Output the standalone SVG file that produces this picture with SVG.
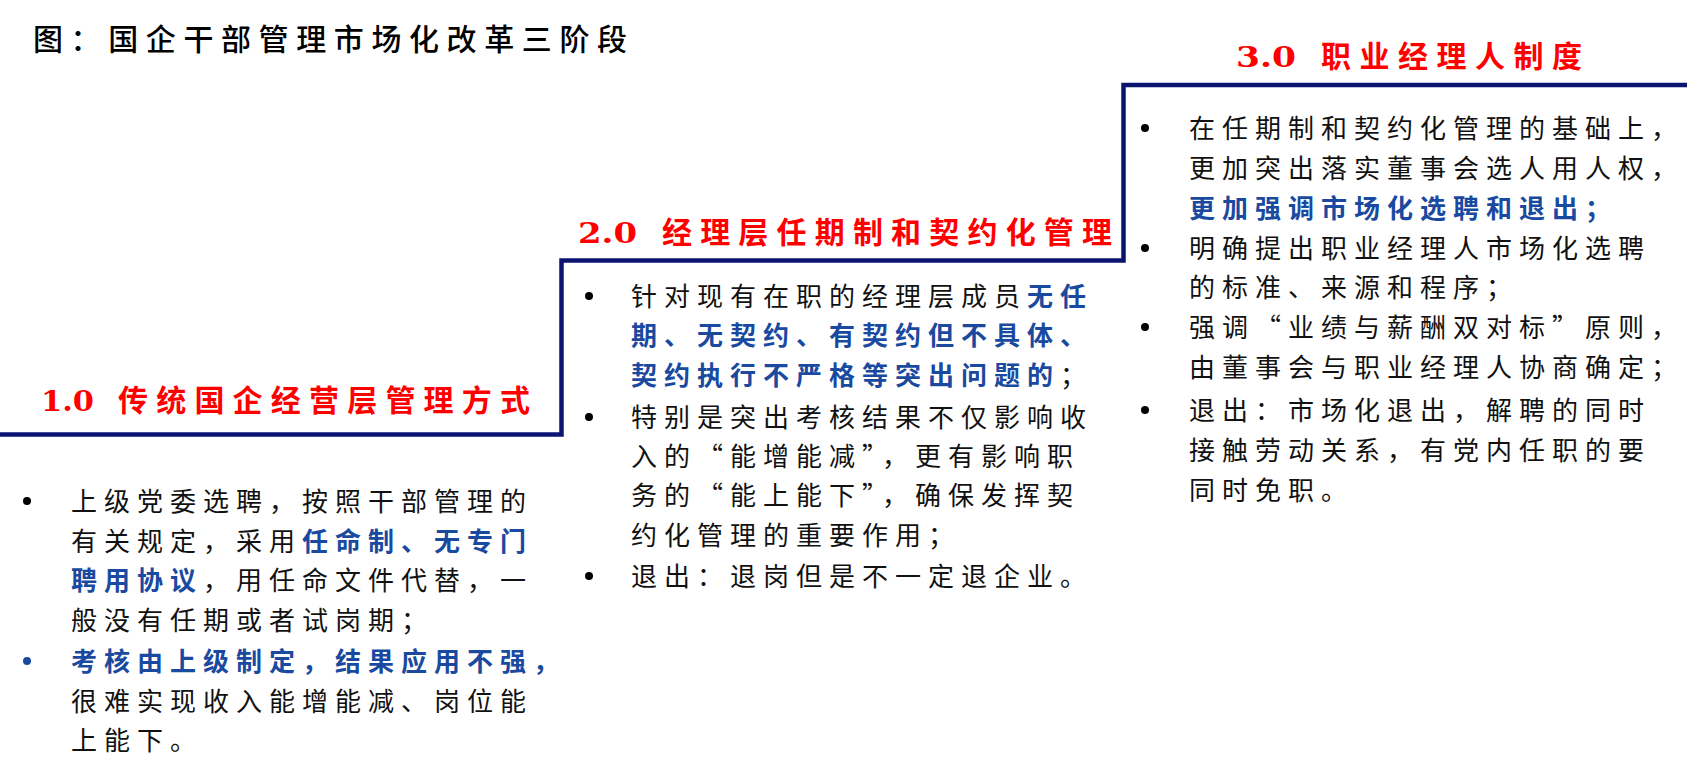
<svg xmlns="http://www.w3.org/2000/svg" width="1707" height="777" viewBox="0 0 1707 777">
<style>
.t{font-family:"Noto Sans CJK SC","Noto Sans",sans-serif;font-size:30px;fill:#000;font-weight:500;}
.b{font-family:"Noto Sans CJK SC","Noto Sans",sans-serif;font-size:26px;fill:#111;letter-spacing:7px;font-feature-settings:"fwid";}
.bl{fill:#1a4aa0;font-weight:bold;}
.h{font-family:"Noto Sans CJK SC","Noto Sans",sans-serif;font-size:30px;fill:#ff0000;font-weight:bold;}
.n{font-family:"DejaVu Serif","Liberation Serif",serif;font-size:27px;fill:#ff0000;font-weight:bold;}
.dot{fill:#000;}
.dotb{fill:#1a4aa0;}
.step{fill:none;stroke:#0b1470;stroke-width:4.5;stroke-linejoin:miter;}
</style>
<rect width="1707" height="777" fill="#fff"/>
<g id="title"><text class="t" x="33" y="50" textLength="594" lengthAdjust="spacing">图：国企干部管理市场化改革三阶段</text></g>
<g id="connectors"><path class="step" d="M0,434.5 H561.5 V260.5 H1123.5 V85 H1687"/></g>
<g id="stage1">
<text class="n" x="41" y="411" textLength="53" lengthAdjust="spacingAndGlyphs">1.0</text>
<text class="h" x="118" y="411" textLength="412" lengthAdjust="spacing">传统国企经营层管理方式</text>
<circle class="dot" cx="27" cy="501" r="4"/>
<circle class="dotb" cx="27" cy="661" r="4"/>
<text class="b" x="71" y="511">上级党委选聘，按照干部管理的</text>
<text class="b" x="71" y="551">有关规定，采用<tspan class="bl">任命制、无专门</tspan></text>
<text class="b" x="71" y="590"><tspan class="bl">聘用协议</tspan>，用任命文件代替，一</text>
<text class="b" x="71" y="630">般没有任期或者试岗期；</text>
<text class="b bl" x="71" y="671">考核由上级制定，结果应用不强，</text>
<text class="b" x="71" y="711">很难实现收入能增能减、岗位能</text>
<text class="b" x="71" y="750">上能下。</text>
</g>
<g id="stage2">
<text class="n" x="578" y="243" textLength="59" lengthAdjust="spacingAndGlyphs">2.0</text>
<text class="h" x="662" y="243" textLength="450" lengthAdjust="spacing">经理层任期制和契约化管理</text>
<circle class="dot" cx="589" cy="296" r="4"/>
<circle class="dot" cx="589" cy="417" r="4"/>
<circle class="dot" cx="589" cy="576" r="4"/>
<text class="b" x="631" y="306">针对现有在职的经理层成员<tspan class="bl">无任</tspan></text>
<text class="b bl" x="631" y="345">期、无契约、有契约但不具体、</text>
<text class="b" x="631" y="385"><tspan class="bl">契约执行不严格等突出问题的</tspan>；</text>
<text class="b" x="631" y="427">特别是突出考核结果不仅影响收</text>
<text class="b" x="631" y="466">入的“能增能减”，更有影响职</text>
<text class="b" x="631" y="505">务的“能上能下”，确保发挥契</text>
<text class="b" x="631" y="545">约化管理的重要作用；</text>
<text class="b" x="631" y="586">退出：退岗但是不一定退企业。</text>
</g>
<g id="stage3">
<text class="n" x="1236" y="67" textLength="60" lengthAdjust="spacingAndGlyphs">3.0</text>
<text class="h" x="1321" y="67" textLength="261" lengthAdjust="spacing">职业经理人制度</text>
<circle class="dot" cx="1145" cy="128" r="4"/>
<circle class="dot" cx="1145" cy="248" r="4"/>
<circle class="dot" cx="1145" cy="327" r="4"/>
<circle class="dot" cx="1145" cy="410" r="4"/>
<text class="b" x="1189" y="138">在任期制和契约化管理的基础上，</text>
<text class="b" x="1189" y="178">更加突出落实董事会选人用人权，</text>
<text class="b bl" x="1189" y="218">更加强调市场化选聘和退出；</text>
<text class="b" x="1189" y="258">明确提出职业经理人市场化选聘</text>
<text class="b" x="1189" y="297">的标准、来源和程序；</text>
<text class="b" x="1189" y="337">强调“业绩与薪酬双对标”原则，</text>
<text class="b" x="1189" y="377">由董事会与职业经理人协商确定；</text>
<text class="b" x="1189" y="420">退出：市场化退出，解聘的同时</text>
<text class="b" x="1189" y="460">接触劳动关系，有党内任职的要</text>
<text class="b" x="1189" y="500">同时免职。</text>
</g>
</svg>
